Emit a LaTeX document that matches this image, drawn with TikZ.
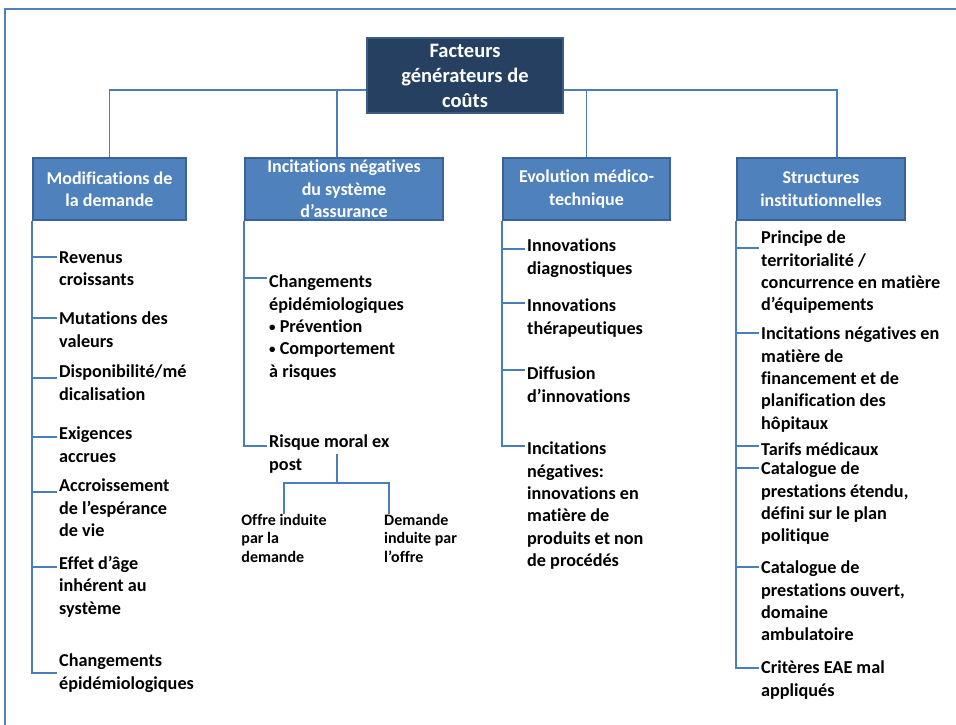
\documentclass[tikz,border=0pt]{standalone}
\usepackage{fontspec}
\setmainfont{Carlito}[Ligatures=CommonOff]
\usetikzlibrary{backgrounds}
\definecolor{lienbleu}{HTML}{4A7EBB}
\definecolor{boitebleu}{HTML}{4F81BD}
\definecolor{bordbleu}{HTML}{3A6296}
\definecolor{racinebleu}{HTML}{254061}
\definecolor{racinebord}{HTML}{3B5C87}
\newcommand{\fontitem}{\fontsize{18.2}{22.3}\selectfont\bfseries}
\newcommand{\fontsous}{\fontsize{16}{18.5}\selectfont\bfseries}
\newcommand{\fonttete}{\fontsize{18}{22.5}\selectfont\bfseries}
\newcommand{\fontracine}{\fontsize{20.5}{25}\selectfont\bfseries}
\newcommand{\puce}{\raisebox{1pt}{\fontsize{13}{13}\selectfont•}}

\begin{document}
\begin{tikzpicture}[x=1pt,y=-1pt,
	lien/.style={draw=lienbleu, line width=1.8pt},
	tete/.style={draw=bordbleu, line width=1.5pt, fill=boitebleu, text=white, font=\fonttete, align=center, inner sep=0pt},
	item/.style={anchor=north west, inner xsep=2pt, inner ysep=0pt, align=left, font=\fontitem, execute at begin node=\strut},
	sous/.style={item, font=\fontsous}]
	\useasboundingbox (0,0) rectangle (956,724);
	% racine
	\node[tete, fill=racinebleu, draw=racinebord, font=\fontracine, minimum width=196, minimum height=75] (root) at (465,75.5) {Facteurs\\générateurs de\\coûts};
	% boites des colonnes
	\node[tete, minimum width=153, minimum height=62] (h1) at (109.5,189) {Modifications de\\la demande};
	\node[tete, minimum width=198, minimum height=62] (h2) at (344,189) {Incitations négatives\\du système\\d’assurance};
	\node[tete, minimum width=167, minimum height=62] (h3) at (586.5,189) {Evolution médico-\\technique};
	\node[tete, minimum width=168, minimum height=62] (h4) at (821,189) {Structures\\institutionnelles};
	% colonne 1
	\node[item] (a1) at (57,251) {Revenus\\croissants};
	\node[item] (a2) at (57,312) {Mutations des\\valeurs};
	\node[item] (a3) at (57,365) {Disponibilité/mé\\dicalisation};
	\node[item] (a4) at (57,427) {Exigences\\accrues};
	\node[item] (a5) at (57,479) {Accroissement\\de l’espérance\\de vie};
	\node[item] (a6) at (57,556) {Effet d’âge\\inhérent au\\système};
	\node[item] (a7) at (57,654) {Changements\\épidémiologiques};
	% colonne 2
	\node[item] (b1) at (267,275) {Changements\\épidémiologiques\\\puce\ Prévention\\\puce\ Comportement\\à risques};
	\node[item] (b2) at (267,435) {Risque moral ex\\post};
	\node[sous, anchor=north] (o1) at (284,514) {Offre induite\\par la\\demande};
	\node[sous] (d1) at (382,514) {Demande\\induite par\\l’offre};
	% colonne 3
	\node[item] (e1) at (525,239) {Innovations\\diagnostiques};
	\node[item] (e2) at (525,299) {Innovations\\thérapeutiques};
	\node[item] (e3) at (525,367) {Diffusion\\d’innovations};
	\node[item] (e4) at (525,442) {Incitations\\négatives:\\innovations en\\matière de\\produits et non\\de procédés};
	% colonne 4
	\node[item] (f1) at (759,231) {Principe de\\territorialité /\\concurrence en matière\\d’équipements};
	\node[item] (f2) at (759,327) {Incitations négatives en\\matière de\\financement et de\\planification des\\hôpitaux};
	\node[item] (f3) at (759,440) {Tarifs médicaux};
	\node[item] (f4) at (759,462) {Catalogue de\\prestations étendu,\\défini sur le plan\\politique};
	\node[item] (f5) at (759,561) {Catalogue de\\prestations ouvert,\\domaine\\ambulatoire};
	\node[item] (f6) at (759,661) {Critères EAE mal\\appliqués};
	\begin{pgfonlayer}{background}
		% cadre
		\draw[draw=boitebleu, line width=1.3pt] (5,9) rectangle (990,760);
		% liaisons racine
		\draw[lien] (h1.north) -- ++(0,-67) -| ([xshift=16pt]h4.north);
		\draw[lien] ([xshift=-7pt]h2.north) -- ++(0,-67);
		\draw[lien] (h3.north) -- ++(0,-67);
		% branches
		\foreach \n/\d in {a1/6,a2/6,a3/13,a4/10,a5/13,a6/11,a7/19}
			\draw[lien] (h1.south west) |- ([yshift=-\d pt]\n.north west);
		\foreach \n/\d in {b1/3,b2/11}
			\draw[lien] (h2.south west) |- ([yshift=-\d pt]\n.north west);
		\foreach \n/\d in {e1/10,e2/4,e3/3,e4/4}
			\draw[lien] (h3.south west) |- ([yshift=-\d pt]\n.north west);
		\foreach \n/\d in {f1/17,f2/6,f3/6,f4/6,f5/6,f6/7}
			\draw[lien] (h4.south west) |- ([yshift=-\d pt]\n.north west);
		% risque moral
		\draw[lien] ([xshift=70pt,yshift=-19pt]b2.north west) -- ++(0,29) coordinate (fourche);
		\draw[lien] (o1.north) |- (fourche) -| ([xshift=7pt]d1.north west);
	\end{pgfonlayer}
\end{tikzpicture}
\end{document}
